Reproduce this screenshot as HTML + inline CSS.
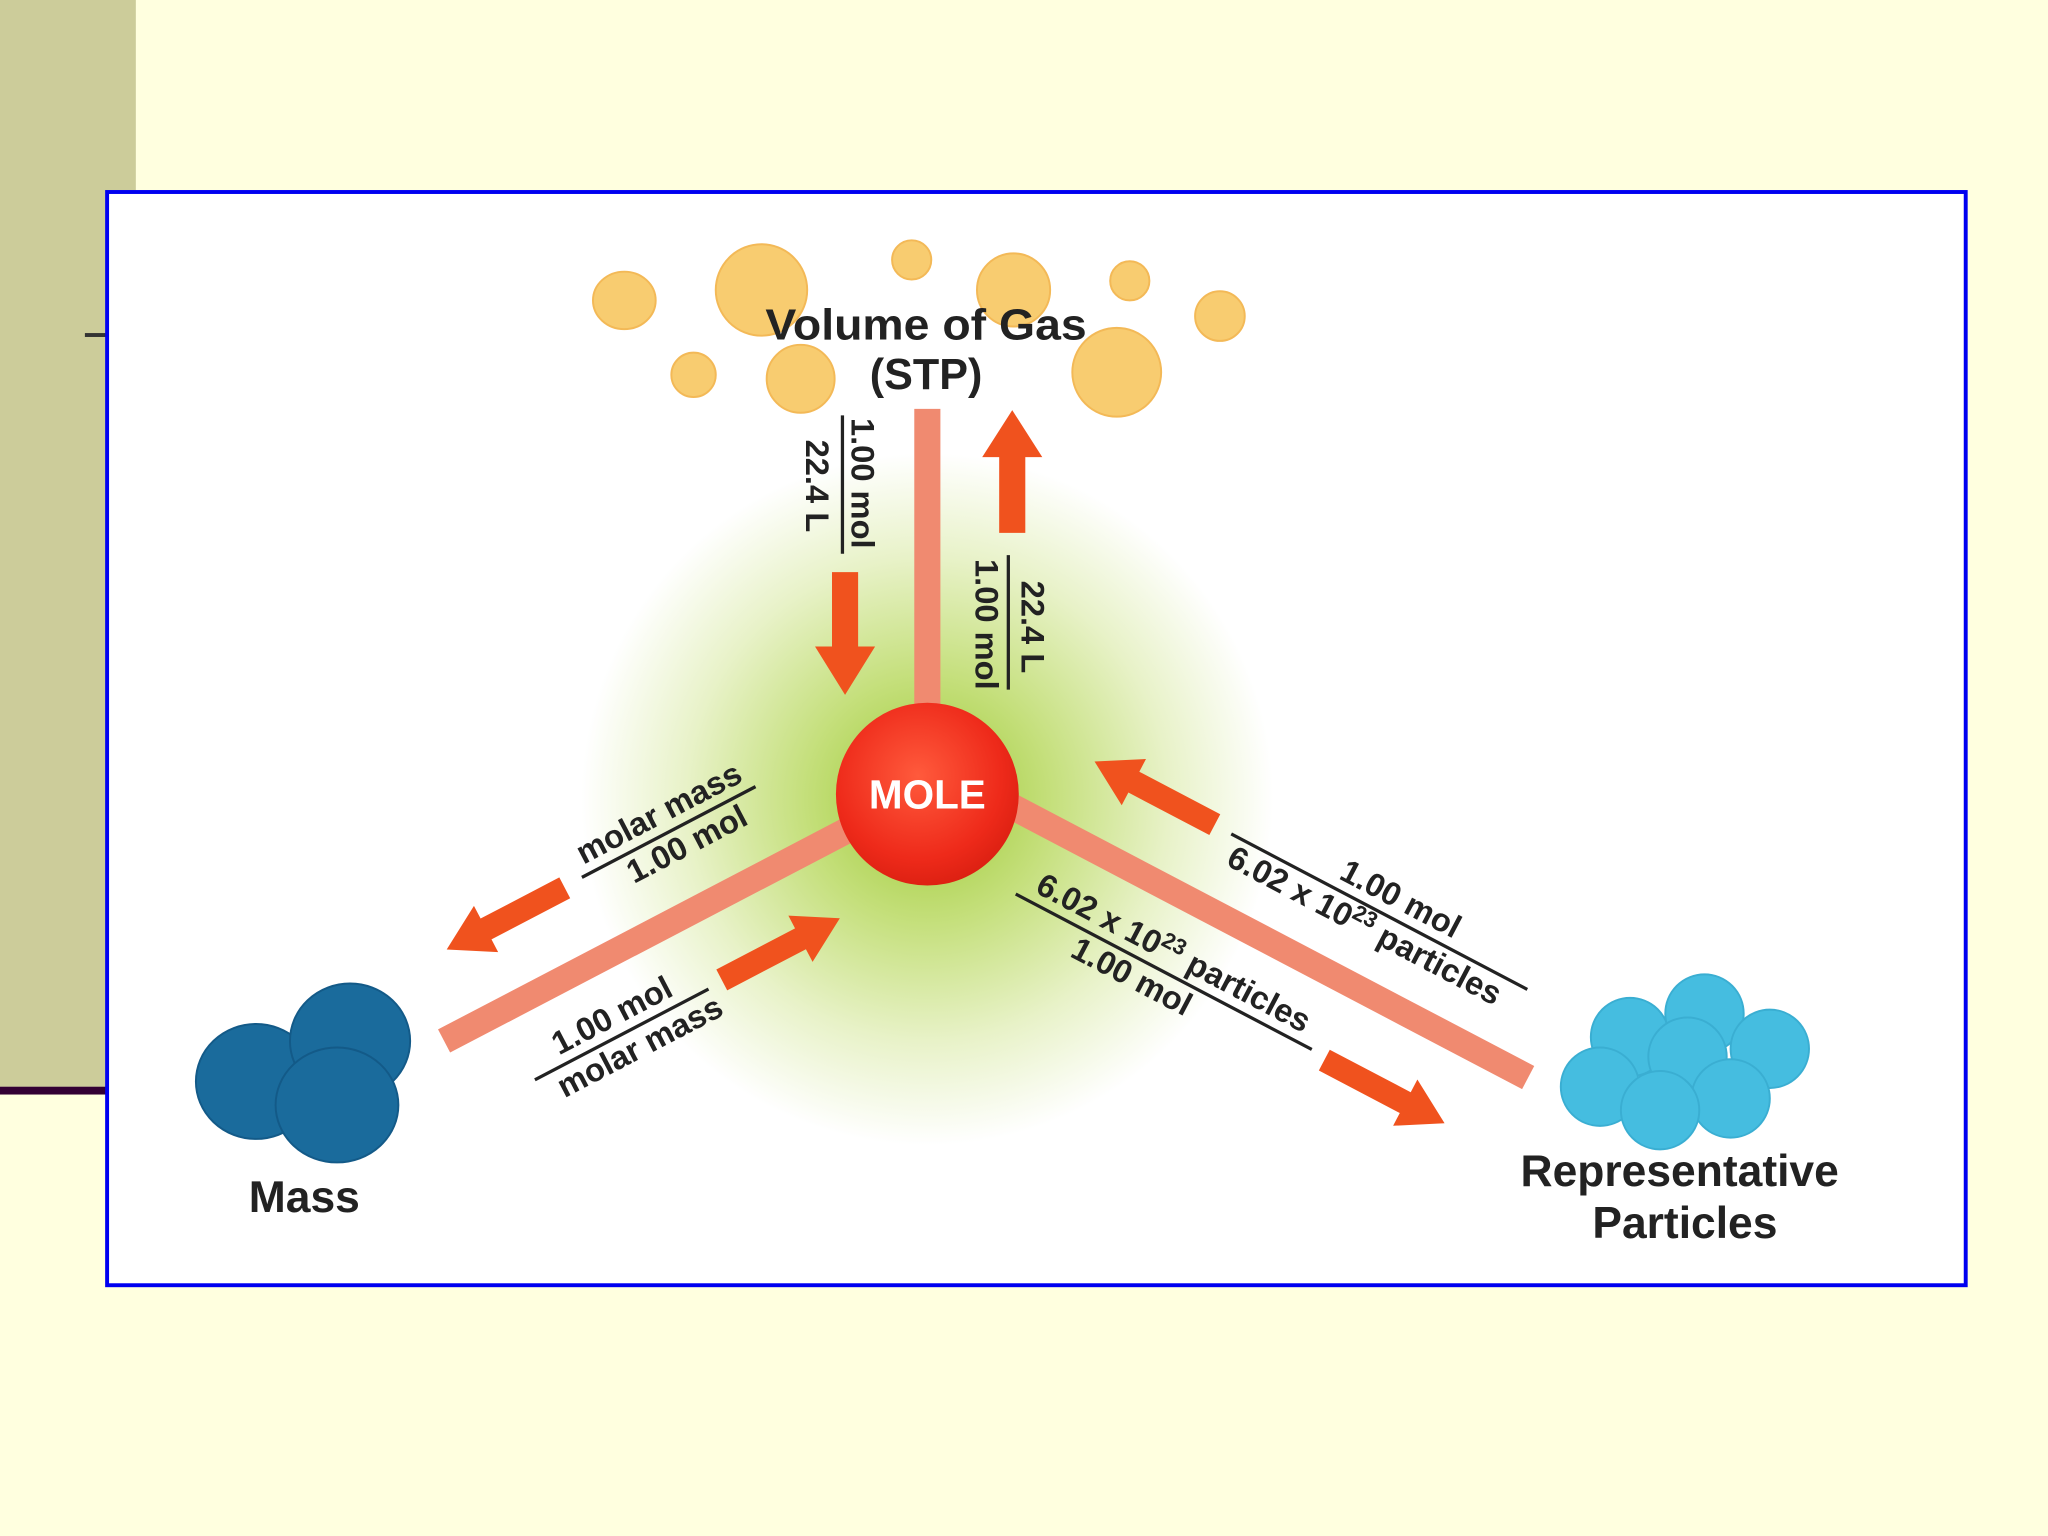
<!DOCTYPE html>
<html><head><meta charset="utf-8"><style>
html,body{margin:0;padding:0;width:2048px;height:1536px;overflow:hidden;background:#ffffdf;}
svg{display:block}
text{font-family:"Liberation Sans",sans-serif;}
</style></head><body>
<svg width="2048" height="1536" viewBox="0 0 1568 1176" preserveAspectRatio="none">
<defs>
<radialGradient id="glow" cx="710" cy="612" r="265" gradientUnits="userSpaceOnUse">
<stop offset="0" stop-color="#9cc832"/><stop offset="0.35" stop-color="#c4df7a"/><stop offset="0.7" stop-color="#e8f2c8"/><stop offset="1" stop-color="#ffffff"/>
</radialGradient>
<radialGradient id="mole" cx="0.45" cy="0.4" r="0.65">
<stop offset="0" stop-color="#ff5a3c"/><stop offset="0.7" stop-color="#ee2a1a"/><stop offset="1" stop-color="#d81e10"/>
</radialGradient>
</defs>
<rect width="1568" height="1176" fill="#ffffdf"/>
<rect x="0" y="0" width="104" height="832" fill="#cccc9a"/>
<rect x="0" y="832" width="84" height="6" fill="#330033"/>
<rect x="65" y="255" width="18" height="3" fill="#333"/>
<rect x="82" y="147" width="1423" height="837" fill="#fff" stroke="#0000f0" stroke-width="3"/>
<circle cx="710" cy="612" r="265" fill="url(#glow)"/>
<g fill="#f8cc70" stroke="#f3b957" stroke-width="1.5">
<ellipse cx="478" cy="230" rx="24" ry="22"/><circle cx="583" cy="222" r="35"/><circle cx="698" cy="199" r="15"/>
<circle cx="776" cy="222" r="28"/><circle cx="865" cy="215" r="15"/><circle cx="934" cy="242" r="19"/>
<circle cx="531" cy="287" r="17"/><circle cx="613" cy="290" r="26"/><circle cx="855" cy="285" r="34"/>
</g>
<text x="709" y="260" font-size="33" font-weight="bold" text-anchor="middle" fill="#222" textLength="246" lengthAdjust="spacingAndGlyphs">Volume of Gas</text>
<text x="709" y="298" font-size="33" font-weight="bold" text-anchor="middle" fill="#222">(STP)</text>
<g stroke="#f08a70" stroke-width="20">
<line x1="710" y1="313" x2="710" y2="560"/>
<line x1="650" y1="635" x2="340" y2="797"/>
<line x1="770" y1="615" x2="1170" y2="825"/>
</g>
<g fill="#f0521e">
<polygon points="637,438 657,438 657,495 670,495 647,532 624,495 637,495"/>
<polygon points="765,408 785,408 785,350 798,350 775,314 752,350 765,350"/>
</g>
<g font-size="25" font-weight="bold" fill="#222">
<text transform="translate(652,370) rotate(90)" text-anchor="middle">1.00 mol</text>
<text transform="translate(617,372) rotate(90)" text-anchor="middle">22.4 L</text>
<text transform="translate(782,480) rotate(90)" text-anchor="middle">22.4 L</text>
<text transform="translate(747,478) rotate(90)" text-anchor="middle">1.00 mol</text>
</g>
<line x1="645" y1="318" x2="645" y2="424" stroke="#222" stroke-width="2.5"/>
<line x1="772" y1="425" x2="772" y2="528" stroke="#222" stroke-width="2.5"/>
<g fill="#f0521e">
<g transform="translate(342,727) rotate(-27.6)"><polygon points="0,0 34,-20 34,-9 102,-9 102,9 34,9 34,20"/></g>
<g transform="translate(643,703) rotate(152.4)"><polygon points="0,0 34,-20 34,-9 102,-9 102,9 34,9 34,20"/></g>
<g transform="translate(838,583) rotate(27.7)"><polygon points="0,0 34,-20 34,-9 104,-9 104,9 34,9 34,20"/></g>
<g transform="translate(1106,860) rotate(207.7)"><polygon points="0,0 34,-20 34,-9 104,-9 104,9 34,9 34,20"/></g>
</g>
<g font-size="25" font-weight="bold" fill="#222" text-anchor="middle">
<g transform="translate(512,637) rotate(-27.6)"><text x="0" y="-8">molar mass</text><line x1="-75" y1="0" x2="75" y2="0" stroke="#222" stroke-width="2.5"/><text x="8" y="23">1.00 mol</text></g>
<g transform="translate(476,792) rotate(-27.6)"><text x="0" y="-8">1.00 mol</text><line x1="-75" y1="0" x2="75" y2="0" stroke="#222" stroke-width="2.5"/><text x="8" y="23">molar mass</text></g>
<g transform="translate(1056,698) rotate(27.7)"><text x="10" y="-8">1.00 mol</text><line x1="-128" y1="0" x2="128" y2="0" stroke="#222" stroke-width="2.5"/><text x="-5" y="23">6.02 x 10<tspan font-size="17" dy="-9">23</tspan><tspan dy="9"> particles</tspan></text></g>
<g transform="translate(891,744) rotate(27.7)"><text x="0" y="-8">6.02 x 10<tspan font-size="17" dy="-9">23</tspan><tspan dy="9"> particles</tspan></text><line x1="-128" y1="0" x2="128" y2="0" stroke="#222" stroke-width="2.5"/><text x="-20" y="23">1.00 mol</text></g>
</g>
<circle cx="710" cy="608" r="70" fill="url(#mole)"/>
<text x="710" y="619" font-size="31" font-weight="bold" fill="#fff" text-anchor="middle">MOLE</text>
<g fill="#1a6b9c" stroke="#135a88" stroke-width="1.5">
<ellipse cx="196" cy="828" rx="46" ry="44"/><ellipse cx="268" cy="797" rx="46" ry="44"/><ellipse cx="258" cy="846" rx="47" ry="44"/>
</g>
<text x="233" y="928" font-size="34" font-weight="bold" text-anchor="middle" fill="#222">Mass</text>
<g fill="#45bde0" stroke="#3aaed2" stroke-width="1.5">
<circle cx="1248" cy="794" r="30"/><circle cx="1305" cy="776" r="30"/><circle cx="1355" cy="803" r="30"/>
<circle cx="1292" cy="809" r="30"/><circle cx="1225" cy="832" r="30"/><circle cx="1325" cy="841" r="30"/><circle cx="1271" cy="850" r="30"/>
</g>
<text x="1286" y="908" font-size="34" font-weight="bold" text-anchor="middle" fill="#222">Representative</text>
<text x="1290" y="948" font-size="34" font-weight="bold" text-anchor="middle" fill="#222">Particles</text>
</svg>
</body></html>
